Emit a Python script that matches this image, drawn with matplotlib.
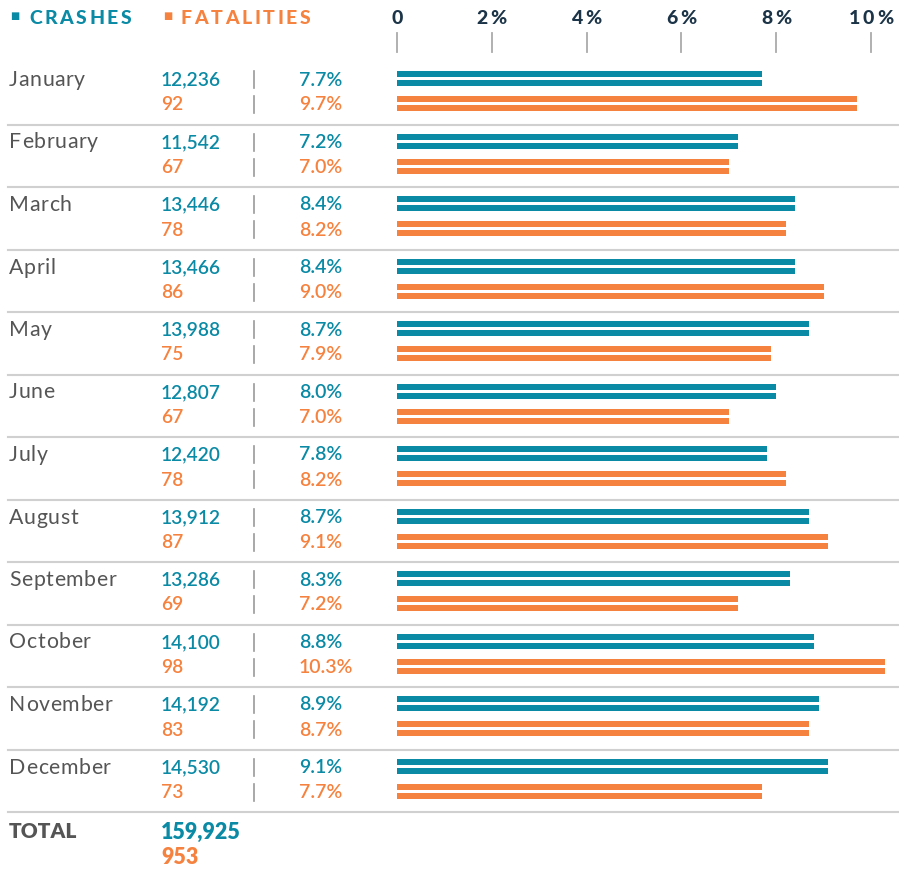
import matplotlib.pyplot as plt

# data
months = ["January", "February", "March", "April", "May", "June", "July",
          "August", "September", "October", "November", "December"]
crashes = [12236, 11542, 13446, 13466, 13988, 12807, 12420, 13912, 13286, 14100, 14192, 14530]
fatalities = [92, 67, 78, 86, 75, 67, 78, 87, 69, 98, 83, 73]
crash_pct = [7.7, 7.2, 8.4, 8.4, 8.7, 8.0, 7.8, 8.7, 8.3, 8.8, 8.9, 9.1]
fatal_pct = [9.7, 7.0, 8.2, 9.0, 7.9, 7.0, 8.2, 9.1, 7.2, 10.3, 8.7, 7.7]
ticks = [0, 2, 4, 6, 8, 10]
tick_labels = ["0", "2%", "4%", "6%", "8%", "10%"]
total_crashes = "159,925"
total_fatal = "953"

TEAL = "#0a8aa5"
ORANGE = "#f6823f"
GREY = "#555555"
NAVY = "#1c3448"
FONT = "Lato"

W, H = 899, 875
fig = plt.figure(figsize=(W / 100, H / 100), dpi=100)
renderer = fig.canvas.get_renderer()

# layout axes in pixel units
ax = fig.add_axes([0, 0, 1, 1])
ax.set_xlim(0, W)
ax.set_ylim(H, 0)
ax.axis("off")

# bar axes in percent units
x0 = 397
ppp = 47.4  # pixels per percent
ax_bar = fig.add_axes([x0 / W, 0, (W - x0) / W, 1])
ax_bar.set_xlim(0, (W - x0) / ppp)
ax_bar.set_ylim(H, 0)
ax_bar.axis("off")


def tracked(x, y, s, track, ha="left", **kw):
    # draw text char by char with extra letter spacing (pixel units of ax)
    widths = []
    for ch in s:
        t = ax.text(0, 0, ch, **kw)
        widths.append(t.get_window_extent(renderer).width)
        t.remove()
    total = sum(widths) + track * (len(s) - 1)
    if ha == "center":
        x = x - total / 2
    for ch, w in zip(s, widths):
        ax.text(x, y, ch, ha="left", va="center", **kw)
        x += w + track


row_top = 62
row_h = 62.5

# header legend
ax.text(10, 16, "■", color=TEAL, fontsize=7, va="center", ha="left", family=["DejaVu Sans"])
tracked(29, 18, "CRASHES", 2.6, color=TEAL, fontsize=14, fontweight="black", family=FONT)
ax.text(163, 16, "■", color=ORANGE, fontsize=7, va="center", ha="left", family=["DejaVu Sans"])
tracked(181, 18, "FATALITIES", 2.6, color=ORANGE, fontsize=14, fontweight="black", family=FONT)

# top axis labels and tick marks
for t, lab in zip(ticks, tick_labels):
    px = ax.transData.inverted().transform(ax_bar.transData.transform((t, 0)))[0]
    tracked(px, 18, lab, 2.5, ha="center", color=NAVY, fontsize=14, fontweight="black",
            family=FONT)
    ax_bar.plot([t, t], [33, 52], color="#aaaaaa", lw=1.3, clip_on=False)

for i, m in enumerate(months):
    top = row_top + row_h * i
    yc = top + 18
    yf = top + 43
    tracked(9, yc, m, 0.6, color=GREY, fontsize=15.3, family=FONT)
    ax.text(161, yc, f"{crashes[i]:,}", color=TEAL, fontsize=13.8, fontweight="semibold",
            family=FONT, va="center", ha="left")
    ax.text(161, yf, f"{fatalities[i]:,}", color=ORANGE, fontsize=13.8, fontweight="semibold",
            family=FONT, va="center", ha="left")
    ax.plot([254, 254], [yc - 9, yc + 8], color="#999999", lw=1.2)
    ax.plot([254, 254], [yf - 9, yf + 8], color="#999999", lw=1.2)
    ax.text(299, yc, f"{crash_pct[i]:.1f}%", color=TEAL, fontsize=14, fontweight="semibold",
            family=FONT, va="center", ha="left")
    ax.text(299, yf, f"{fatal_pct[i]:.1f}%", color=ORANGE, fontsize=14, fontweight="semibold",
            family=FONT, va="center", ha="left")

    # double-stripe bars
    bc = top + 16.5
    bf = top + 41.5
    for off in (-4.5, 4.5):
        ax_bar.barh(bc + off, crash_pct[i], height=6, left=0, color=TEAL, linewidth=0)
        ax_bar.barh(bf + off, fatal_pct[i], height=6, left=0, color=ORANGE, linewidth=0)

    # divider
    ax.plot([8, W], [top + row_h, top + row_h], color="#d0d0d0", lw=1.5)

# total row
ytot = row_top + row_h * len(months)
ax.text(9, ytot + 20, "TOTAL", color=GREY, fontsize=15, fontweight="heavy", family=FONT,
        va="center", ha="left")
ax.text(161, ytot + 20, total_crashes, color=TEAL, fontsize=15.5, fontweight="heavy",
        family=FONT, va="center", ha="left")
ax.text(161, ytot + 45, total_fatal, color=ORANGE, fontsize=15.5, fontweight="heavy",
        family=FONT, va="center", ha="left")

fig.savefig("out.png", dpi=100)
